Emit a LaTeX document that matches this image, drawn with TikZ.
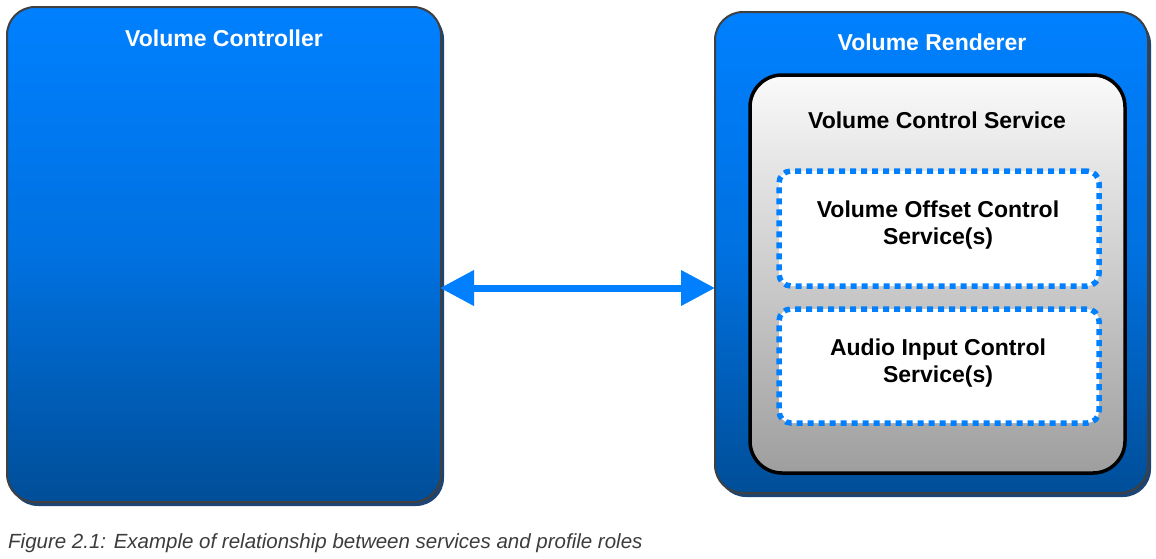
\documentclass[tikz,border=0pt]{standalone}
\usepackage{fontspec}
\setmainfont{Liberation Sans}
\usetikzlibrary{arrows.meta,shadows}
\definecolor{bblue}{HTML}{0080FF}
\definecolor{dblue}{HTML}{004E98}
\definecolor{bordergray}{HTML}{404040}
\definecolor{shadowblue}{HTML}{1C4474}
\definecolor{captiongray}{HTML}{3C3C3C}
\tikzset{
  rolebox/.style={draw=bordergray, line width=2pt, rounded corners=28pt,
    top color=bblue, bottom color=dblue, middle color=bblue!70!dblue,
    drop shadow={shadow xshift=3pt, shadow yshift=-4pt, fill=shadowblue, opacity=1}},
  servicebox/.style={draw=black, line width=3.5pt, rounded corners=32pt,
    top color=white!98!black, bottom color=black!38},
  includedbox/.style={draw=bblue, line width=5.5pt, dash pattern=on 6pt off 5pt,
    rounded corners=12pt, fill=white},
  rolelabel/.style={text=white, font=\fontsize{23}{27}\selectfont\bfseries},
  servlabel/.style={text=black, font=\fontsize{23}{27}\selectfont\bfseries, align=center},
  link/.style={draw=bblue, line width=7pt, {Triangle[length=34pt,width=34pt]}-{Triangle[length=34pt,width=34pt]}},
}
\begin{document}
\begin{tikzpicture}[x=1pt,y=-1pt]
\useasboundingbox (0,0) rectangle (1156,558);
\node[rolebox, minimum width=434pt, minimum height=495pt, inner sep=0pt] (ctrl) at (224,254.5) {};
\node[rolebox, minimum width=433pt, minimum height=481pt, inner sep=0pt] (rend) at (931.5,252.5) {};
\node[servicebox, minimum width=375pt, minimum height=398pt, inner sep=0pt] (vcs) at (937.5,274) {};
\node[includedbox, minimum width=320pt, minimum height=115pt, inner sep=0pt] (vocs) at (939,228.5) {};
\node[includedbox, minimum width=320pt, minimum height=114pt, inner sep=0pt] (aics) at (939,366) {};
\node[rolelabel] (ctrltext) at (224,38) {Volume Controller};
\node[rolelabel] (rendtext) at (932,42) {Volume Renderer};
\node[servlabel] (vcstext) at (937,120) {Volume Control Service};
\node[servlabel] (vocstext) at (938,225) {Volume Offset Control\\Service(s)};
\node[servlabel] (aicstext) at (938,363) {Audio Input Control\\Service(s)};
\coordinate (la) at (440,288);
\coordinate (ra) at (715,288);
\draw[link] (la) -- (ra);
\node[anchor=west, text=captiongray, font=\fontsize{20.5}{24}\selectfont\itshape, inner sep=0pt] (cap) at (8,543) {Figure 2.1: Example of relationship between services and profile roles};
\end{tikzpicture}
\end{document}
